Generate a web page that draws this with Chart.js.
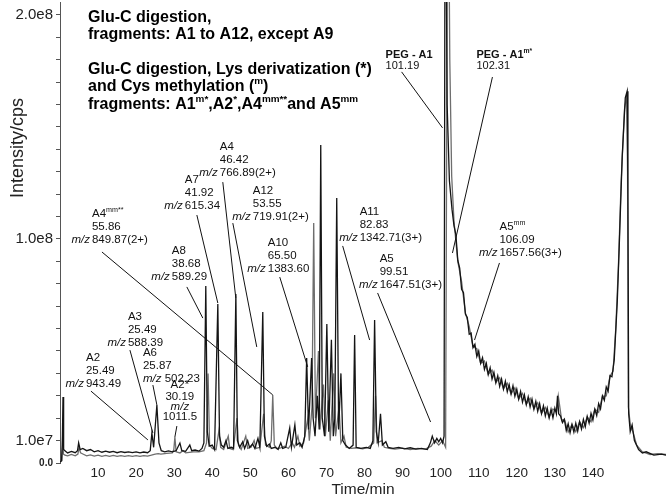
<!DOCTYPE html>
<html><head><meta charset="utf-8">
<script src="https://cdn.jsdelivr.net/npm/chart.js@4.4.1/dist/chart.umd.min.js"></script>
<style>html,body{margin:0;padding:0;background:#fff}</style>
</head><body>
<canvas id="c" width="666" height="499"></canvas>
<script>
// ---- data (time in min, intensity in 1e6 cps) ----
const timeTicks = [10,20,30,40,50,60,70,80,90,100,110,120,130,140];
const intensityTicks = [0,10,20,30,40,50,60,70,80,90,100,110,120,130,140,150,160,170,180,190,200];
const intensityTickLabels = {0:'0.0', 10:'1.0e7', 100:'1.0e8', 200:'2.0e8'};

// Glu-C digestion (black trace)
const gluTime = [0,0.4,0.6,0.79,0.95,1.3,2,3,4,4.6,4.9,5.3,6,7,8,9,10,11,12,13,14,15,16,17,18,19,20,21,22,23,23.7,24.14,24.6,25.45,26,26.6,27.5,28.5,29.5,30.5,31.5,32,33,34.1,34.6,35.5,36.5,37.3,37.8,38.3,38.7,39.2,40,40.6,41.46,41.9,42.4,43,43.6,44.1,45,45.6,46.2,46.6,47.2,48,48.5,49.3,49.8,50.6,51.2,52,52.5,53.27,53.7,54.3,55,55.5,56.5,57.3,58,58.5,59.3,60.35,60.8,61.7,62.2,63,63.6,64.3,64.8,65.3,66.1,66.5,67,67.6,68.1,68.5,68.9,69.5,70.1,70.6,71.3,71.8,72.2,72.7,73.2,73.8,74.3,75,76,77,77.4,77.8,79,80.5,81.5,82.2,82.65,83.1,83.6,84.2,84.7,85.6,86.2,87.5,89,90.5,92,93.5,95,96.5,97.3,97.8,98.4,99,99.5,100,100.5,100.9,101.2,101.7,102.3,103,103.5,
  104,104.5,105,105.5,106,106.5,107,107.5,108,108.5,109,109.5,110,110.5,111,111.5,112,112.5,113,113.5,114,114.5,115,115.5,116,116.5,117,117.5,118,118.5,119,119.5,120,120.5,121,121.5,122,122.5,123,123.5,124,124.5,125,125.5,126,126.5,127,127.5,128,128.5,129,129.5,130,130.4,130.7,131,131.5,132,132.5,133,133.5,134,134.5,135,135.5,136,136.5,137,137.5,138,138.5,139,139.5,140,140.5,141,141.5,142,142.5,143,143.5,144,144.5,145,145.6,146.4,146.9,147.7,148.5,149,149.2,149.4,149.8,150.3,150.9,152,153,154,156,158,159.2];
const gluIntensity = [0.5,1,8,29.5,6,5.5,4.5,5.2,4.6,5.5,9,6,6.5,5.5,6,5,5.5,4.8,5.3,4.8,5.2,4.6,5.1,4.7,5,4.6,5,4.5,4.9,4.6,5.5,13.4,7,25.9,9,5.5,5,5.4,5,5.5,8.9,5.5,5.2,8,5.5,5.8,5.3,6.5,9,79,14,7.5,8,6,71,12,8,7,10,6.5,7,6.5,75.4,10,7,9.5,6.5,10,7,8.5,6.5,11,7,67.4,12,7.5,8.5,6.5,7,6,9,6.5,7,15.6,7,17,8,9,7,12,46.9,15,46.9,20,12,30,15,142,20,12,62,14,55,12,20,118.3,15,40,10,8,6.5,8,57.1,7,6.5,7,6.5,10,63.8,14,9,22,8,9.5,7,6.5,7,6.3,6.8,6.2,6.5,6,9,12,9,11,9.5,11,9,12,300,160,126,113,106,
  102,90.5,87,77.5,76,66.5,65,57.5,58,51.5,53,47.5,50,44.5,47,41.8,44.5,39.5,42.5,37.5,40.5,35.8,39,34.2,37.5,33,36.5,31.8,35,30.8,34.5,29.8,33,28.5,32,27.2,30.5,26,29.5,25,28.5,24,27.5,23,26.5,22,25.5,21,24.5,20.2,24,20.2,24.5,22,30,22,21,18,19.5,14.5,17.5,13.5,17.2,13.8,17.8,14.2,18.5,15.2,19.5,16.2,20.8,17.8,22.2,19.2,24,21.2,26.5,24.2,30,28,34,32,39,38.5,46,72,96,137,163,166,120,22,14,17,10,6,4.5,5,3.5,4,3.5];

// Glu-C digestion + Lys derivatization + Cys methylation (grey trace)
const lysTime = [0,0.5,0.7,0.9,1.3,2,3,4,4.7,5,5.4,6,7,8,9,10,11,12,13,14,15,16,17,18,19,20,21,22,23,24,25,25.8,26.5,28,29.5,29.9,30.18,30.5,31.5,32.3,33,35,36.5,37.8,38.5,38.9,39.3,40,41,41.8,42.2,43,44.2,44.6,45.5,46.5,46.9,47.6,48.8,49.3,50.2,51,51.5,52.5,53.5,54,55,55.5,55.89,56.3,57,58,59,60,61,61.6,62.5,63,64,65.1,65.5,66.2,66.65,67.1,67.9,68.3,69.2,69.7,70.5,71,71.9,72.4,73.3,73.8,74.6,75.2,76.5,78,79.5,81,82.4,82.9,83.3,84.6,85.2,86.5,88,90,92,94,96,97.5,98.5,99.5,100.5,101.3,101.9,102.4,102.9,103.5,104.5,105.5,106.5,107.5,108.5,109.5,110.5,111.5,112.5,113.5,114.5,115.5,116.5,117.5,118.5,119.5,120.5,121.5,122.5,123.5,124.5,125.5,126.5,127.5,128.5,129.5,130.4,130.9,131.8,132.5,133.5,134.5,135.5,136.5,137.5,138.5,139.5,140.5,141.5,142.5,143.5,144.5,145.3,146,146.7,147.4,148.3,148.9,149.1,149.3,149.9,150.5,151.5,153,155,157,159.2];
const lysIntensity = [0.3,1,12,4,3.5,3.2,3.8,3.2,4,7,4.5,4,3.2,3.6,3.1,3.5,3,3.4,3,3.4,3,3.3,3,3.3,3,3.3,3,3.3,3.1,3.5,4,4.2,4,4.3,4.5,6,11.6,5,4.5,5.5,4.5,5,5,5.5,9,40,8,6.5,6,15,7,6,12,6.5,6,20,8,6,12,6.5,7,10,6.5,7,22,8,7,10,30.4,8,6.5,6.8,7.5,6.5,9,7,12,7.5,9,20,10,25,107.1,20,50,15,35,12,28,10,40,12,25,9,12,7,6.5,6.8,6.3,7,9,30,9,10,7,6.5,6.2,6.6,6,6.5,6.2,7.5,10,8,10,7,300,180,128,108,90,81,67,61,52,51,44.5,45.5,39.5,41.5,36,38,33.2,35.6,30.8,33.6,28.6,31.1,26.2,28.9,24.2,26.9,22.2,24.8,20.4,24.1,23,30,19,19.6,13.8,17.2,14,18.4,15.8,20.6,18.4,24,22.6,29.8,30,38.8,41,60,88,125,158,164,130,25,16,14,8,5,3.8,4.2,3.8];

// peak annotations: text anchor and leader line, in data units (min, 1e6 cps)
const peakNotes = [
  {name:'A4', sup:'mm**', rt:'55.86', mz:'849.87(2+)', at:[8.40,111.2], lead:[[11.02,94.2],[55.89,30.4]]},
  {name:'A8', rt:'38.68', mz:'589.29', at:[29.39,94.6], lead:[[33.32,78.6],[37.52,64.7]]},
  {name:'A7', rt:'41.92', mz:'615.34', at:[32.8,126.3], lead:[[35.95,110.7],[41.46,71.4]]},
  {name:'A4', rt:'46.42', mz:'766.89(2+)', at:[41.98,141.1], lead:[[42.77,125.4],[46.18,73.7]]},
  {name:'A12', rt:'53.55', mz:'719.91(2+)', at:[50.64,121.4], lead:[[45.4,107.1],[51.69,51.8]]},
  {name:'A10', rt:'65.50', mz:'1383.60', at:[54.58,98.2], lead:[[57.73,83.0],[65.07,42.9]]},
  {name:'A11', rt:'82.83', mz:'1342.71(3+)', at:[78.72,112.1], lead:[[74.26,96.9],[81.34,54.9]]},
  {name:'A5', rt:'99.51', mz:'1647.51(3+)', at:[83.97,91.1], lead:[[83.44,75.9],[97.35,18.3]]},
  {name:'PEG - A1', rt:'101.19', at:[85.54,182.1], lead:[[89.74,174.6],[100.5,149.6]], peg:true},
  {name:'PEG - A1', sup:'m*', rt:'102.31', at:[109.4,182.1], lead:[[113.6,172.3],[103.1,93.75]], peg:true},
  {name:'A5', sup:'mm', rt:'106.09', mz:'1657.56(3+)', at:[115.45,105.4], lead:[[115.45,89.3],[108.9,54.9]]},
  {name:'A3', rt:'25.49', mz:'588.39', at:[17.84,65.2], lead:[[18.37,50.4],[24.4,13.4]]},
  {name:'A6', rt:'25.87', mz:'502.23', inline:true, at:[21.78,49.1], lead:[[24.4,34.8],[25.45,25.9]]},
  {name:'A2', rt:'25.49', mz:'943.49', at:[6.82,46.9], lead:[[8.13,32.1],[23.09,10.3]]},
  {name:'A2*', rt:'30.19', mz:'1011.5', stacked:true, at:[31.49,34.8], lead:[[30.7,16.5],[30.18,11.6]]}
];

const legendLines = [
  [{t:'Glu-C digestion,'}],
  [{t:'fragments: A1 to A12, except A9'}],
  null,
  [{t:'Glu-C digestion, Lys derivatization (*)'}],
  [{t:'and Cys methylation ('},{t:'m',sup:true},{t:')'}],
  [{t:'fragments: A1'},{t:'m*',sup:true},{t:',A2'},{t:'*',sup:true},{t:',A4'},{t:'mm**',sup:true},{t:'and A5'},{t:'mm',sup:true}]
];

const FAM = '"Liberation Sans", Arial, sans-serif';

function drawRich(ctx, x, y, segs, size, weight) {
  let cx = x;
  segs.forEach(s => {
    const sz = s.sup ? size * 0.62 : size;
    ctx.font = (s.italic ? 'italic ' : '') + weight + ' ' + sz + 'px ' + FAM;
    ctx.textAlign = 'left';
    ctx.fillText(s.t, cx, s.sup ? y - size * 0.33 : y);
    cx += ctx.measureText(s.t).width;
  });
  return cx;
}

const notesPlugin = {
  id: 'notes',
  afterDatasetsDraw(chart) {
    const ctx = chart.ctx, xs = chart.scales.x, ys = chart.scales.y;
    ctx.save();
    ctx.fillStyle = '#111';
    ctx.strokeStyle = '#111';
    ctx.lineWidth = 1;
    ctx.textBaseline = 'middle';
    const size = 11.5;
    peakNotes.forEach(n => {
      const x0 = xs.getPixelForValue(n.at[0]);
      const y0 = ys.getPixelForValue(n.at[1]);
      const lh = n.peg ? 11 : 13;
      if (n.stacked) {
        ctx.textAlign = 'center';
        ctx.font = 'normal ' + size + 'px ' + FAM;
        ctx.fillText(n.name, x0, y0);
        ctx.fillText(n.rt, x0, y0 + 12);
        ctx.font = 'italic ' + size + 'px ' + FAM;
        ctx.fillText('m/z', x0, y0 + 22);
        ctx.font = 'normal ' + size + 'px ' + FAM;
        ctx.fillText(n.mz, x0, y0 + 32);
      } else {
        const segs = [{t:n.name}];
        if (n.sup) segs.push({t:n.sup, sup:true});
        drawRich(ctx, x0, y0, segs, n.peg ? 11 : size, n.peg ? 'bold' : 'normal');
        ctx.font = 'normal ' + (n.peg ? 11 : size) + 'px ' + FAM;
        ctx.textAlign = 'left';
        ctx.fillText(n.rt, x0, y0 + lh);
        if (n.mz) {
          if (n.inline) {
            drawRich(ctx, x0, y0 + 2 * lh, [{t:'m/z ', italic:true},{t:n.mz}], size, 'normal');
          } else {
            ctx.font = 'italic ' + size + 'px ' + FAM;
            ctx.textAlign = 'right';
            ctx.fillText('m/z', x0 - 2, y0 + 2 * lh);
            ctx.font = 'normal ' + size + 'px ' + FAM;
            ctx.textAlign = 'left';
            ctx.fillText(n.mz, x0, y0 + 2 * lh);
          }
        }
      }
      ctx.beginPath();
      ctx.moveTo(xs.getPixelForValue(n.lead[0][0]), ys.getPixelForValue(n.lead[0][1]));
      ctx.lineTo(xs.getPixelForValue(n.lead[1][0]), ys.getPixelForValue(n.lead[1][1]));
      ctx.stroke();
    });
    // legend text block
    ctx.fillStyle = '#000';
    const lx = chart.chartArea.left + 28;
    const ly = [18, 35, 0, 70, 87, 105];
    legendLines.forEach((segs, i) => {
      if (segs) drawRich(ctx, lx, ly[i], segs, 16, 'bold');
    });
    // y-axis title
    ctx.fillStyle = '#222';
    ctx.translate(18, 148);
    ctx.rotate(-Math.PI / 2);
    ctx.textAlign = 'center';
    ctx.font = 'normal 18px ' + FAM;
    ctx.fillText('Intensity/cps', 0, 0);
    ctx.restore();
  }
};

new Chart(document.getElementById('c'), {
  type: 'line',
  data: {
    datasets: [
      {label:'Glu-C digestion', data: gluTime.map((t,i)=>({x:t, y:gluIntensity[i]})),
       borderColor:'#141414', borderWidth:1.3, pointRadius:0, tension:0},
      {label:'Glu-C digestion, Lys derivatization and Cys methylation', data: lysTime.map((t,i)=>({x:t, y:lysIntensity[i]})),
       borderColor:'#6e6e6e', borderWidth:1.3, pointRadius:0, tension:0}
    ]
  },
  options: {
    responsive:false, animation:false, devicePixelRatio:1,
    layout:{padding:{top:2,left:0,right:0,bottom:0}},
    plugins:{legend:{display:false}, tooltip:{enabled:false}},
    scales:{
      x:{type:'linear', min:0, max:159.2,
         afterBuildTicks:s=>{s.ticks = timeTicks.map(v=>({value:v}));},
         afterFit:s=>{s.height = 36; s.paddingLeft = 0; s.paddingRight = 0;},
         grid:{display:false, drawTicks:false}, border:{display:false},
         ticks:{autoSkip:false, maxRotation:0, padding:2, color:'#222', font:{family:FAM, size:13.5}},
         title:{display:true, text:'Time/min', color:'#222', font:{family:FAM, size:15.5}, padding:{top:0,bottom:0}}
      },
      y:{type:'linear', min:0, max:205.8,
         afterBuildTicks:s=>{s.ticks = intensityTicks.map(v=>({value:v}));},
         afterFit:s=>{s.width = 60; s.paddingTop = 0; s.paddingBottom = 0;},
         grid:{drawOnChartArea:false, drawTicks:true, tickLength:4, color:'#555'},
         border:{display:true, color:'#555', width:1},
         ticks:{autoSkip:false, padding:3, color:'#222',
           callback:v=>intensityTickLabels[v] ?? '',
           font:c=> (c.tick && c.tick.value===0) ? {family:FAM, size:10, weight:'bold'} : {family:FAM, size:15}}
      }
    }
  },
  plugins:[notesPlugin]
});
</script>
</body></html>
